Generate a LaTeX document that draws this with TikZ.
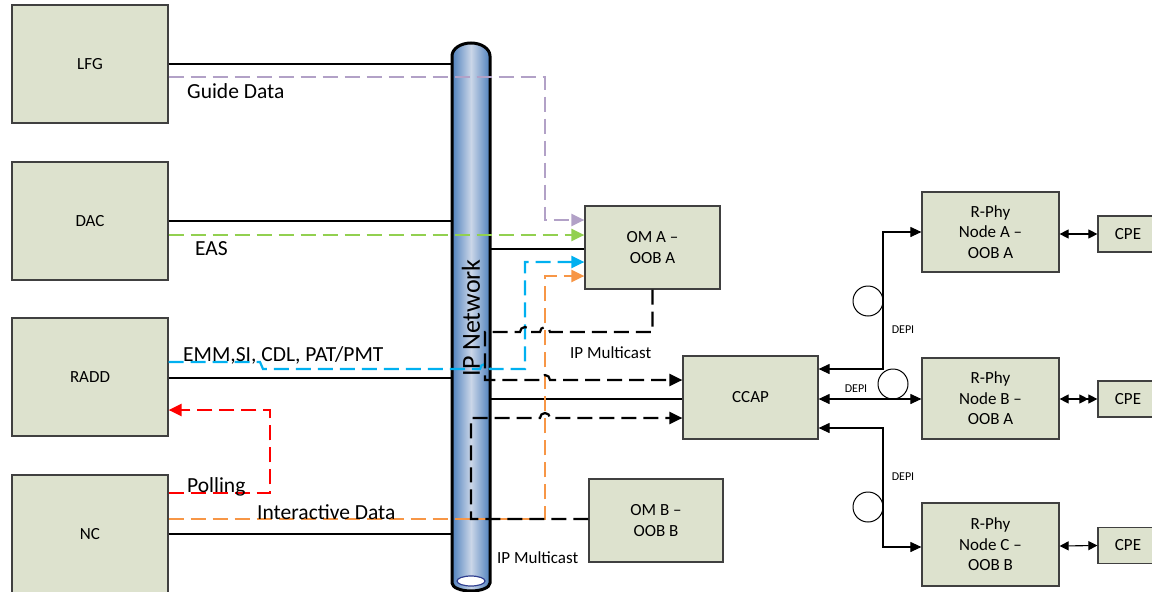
\documentclass[tikz,border=0pt]{standalone}
\usepackage{fontspec}
\setmainfont{Carlito}
\usetikzlibrary{arrows.meta,calc}
\definecolor{boxfill}{RGB}{221,226,206}
\definecolor{boxline}{RGB}{64,64,64}
\definecolor{cpurple}{RGB}{178,161,199}
\definecolor{cgreen}{RGB}{146,208,80}
\definecolor{cblue}{RGB}{0,176,240}
\definecolor{corange}{RGB}{247,150,70}
\definecolor{cred}{RGB}{255,0,0}
\definecolor{pipeblue}{RGB}{79,129,189}
\definecolor{pipelight}{RGB}{203,214,232}
\definecolor{ellblue}{RGB}{47,62,143}
\begin{document}
\begin{tikzpicture}[x=1pt,y=-1pt,
  box/.style={draw=boxline,fill=boxfill,line width=1.2pt,inner sep=0pt,align=center,font=\fontsize{17}{20.5}\selectfont},
  lbl/.style={inner sep=0pt,font=\fontsize{21.5}{24}\selectfont,anchor=base west},
  mlbl/.style={inner sep=0pt,font=\fontsize{17}{20}\selectfont,anchor=base west},
  depi/.style={inner sep=0pt,font=\fontsize{12}{14}\selectfont},
  link/.style={line width=1.8pt},
  thinlink/.style={line width=1.1pt},
  dsh/.style={line width=2.2pt,dash pattern=on 15pt off 7pt},
  ring/.style={circle,draw,line width=1pt,minimum size=30pt,inner sep=0pt},
  >={Triangle[length=11pt,width=10pt]}]
\useasboundingbox (0,0) rectangle (1152,592);

% boxes
\node[box,minimum width=156pt,minimum height=118pt] (lfg) at (90,64) {LFG};
\node[box,minimum width=156pt,minimum height=118pt] (dac) at (90,221) {DAC};
\node[box,minimum width=156pt,minimum height=118pt] (radd) at (90,377) {RADD};
\node[box,minimum width=156pt,minimum height=118pt] (nc) at (90,534) {NC};
\node[box,minimum width=135pt,minimum height=83pt] (omA) at (652.5,247.5) {OM A –\\OOB A};
\node[box,minimum width=135pt,minimum height=83pt] (ccap) at (750.5,397.5) {CCAP};
\node[box,minimum width=134pt,minimum height=83pt] (omB) at (656,520.5) {OM B –\\OOB B};
\node[box,minimum width=137pt,minimum height=80pt] (rA) at (990.5,232) {R-Phy\\Node A –\\OOB A};
\node[box,minimum width=137pt,minimum height=81pt] (rB) at (990.5,398.5) {R-Phy\\Node B –\\OOB A};
\node[box,minimum width=137pt,minimum height=83pt] (rC) at (990.5,544.5) {R-Phy\\Node C –\\OOB B};
\node[box,minimum width=60pt,minimum height=36pt] (cpeA) at (1128,234) {CPE};
\node[box,minimum width=60pt,minimum height=36pt] (cpeB) at (1128,399) {CPE};
\node[box,minimum width=60pt,minimum height=36pt] (cpeC) at (1128,545.5) {CPE};

% IP network pipe
\coordinate (pL) at (452,0);
\coordinate (pR) at (490,0);
\path[left color=pipeblue,right color=pipeblue,middle color=pipelight]
  (452,583) -- (452,56) arc[start angle=180,end angle=360,x radius=19,y radius=13]
  -- (490,583) arc[start angle=0,end angle=180,x radius=19,y radius=8] -- cycle;
\draw[line width=3pt]
  (452,583) -- (452,56) arc[start angle=180,end angle=360,x radius=19,y radius=13]
  -- (490,583) arc[start angle=0,end angle=180,x radius=19,y radius=8] -- cycle;
\draw[ellblue,fill=white,line width=1.2pt] (471,581) ellipse[x radius=14,y radius=5];

% solid links to pipe
\draw[link] (lfg.east) -- (lfg.east -| pL);
\draw[link] (dac.east) -- (dac.east -| pL);
\draw[link] (radd.east |- 0,378) -- (pL |- 0,378);
\draw[link] (nc.east) -- (nc.east -| pL);
\draw[link] (pR |- 0,249) -- (omA.west |- 0,249);
\draw[link] (pR |- 0,399) -- (ccap.west |- 0,399);

% coloured flows
\draw[dsh,corange,-{Triangle[length=13pt,width=12pt]}]
  (nc.east |- 0,519) -- (545,519) -- (545,276) -- (omA.west |- 0,276);
\draw[dsh,cpurple,-{Triangle[length=13pt,width=12pt]}]
  (lfg.east |- 0,77) -- (545,77) -- (545,220) -- (omA.west |- 0,220);
\draw[dsh,cgreen,-{Triangle[length=13pt,width=12pt]}]
  (dac.east |- 0,235) -- (omA.west |- 0,235);
\draw[dsh,cblue,-{Triangle[length=13pt,width=12pt]}]
  (radd.east |- 0,362) -- (260,362) -- (263,369) -- (480,369)
  arc[start angle=180,end angle=360,radius=5] -- (525,369) -- (525,262) -- (omA.west |- 0,262);
\draw[dsh,cred,-{Triangle[length=13pt,width=12pt]}]
  (nc.east |- 0,493) -- (270,493) -- (270,410) -- (radd.east |- 0,410);

% multicast flows
\draw[dsh,black,-{Triangle[length=13pt,width=12pt]}]
  (omA.south) -- (652.5,332) -- (550,332) arc[start angle=0,end angle=-180,radius=5]
  -- (530,332) arc[start angle=0,end angle=-180,radius=5] -- (485,332) -- (485,380)
  -- (540,380) arc[start angle=180,end angle=360,radius=5] -- (ccap.west |- 0,380);
\draw[dsh,black,-{Triangle[length=13pt,width=12pt]}]
  (omB.west |- 0,519) -- (471,519) -- (471,418)
  -- (540,418) arc[start angle=180,end angle=360,radius=5] -- (ccap.west |- 0,418);

% right side DEPI links
\draw[thinlink,<->] (ccap.east |- 0,369) -- (883,369) -- (883,232) -- (rA.west |- 0,232);
\draw[thinlink,<->] (ccap.east |- 0,399) -- (rB.west |- 0,399);
\draw[thinlink,<->] (ccap.east |- 0,428) -- (883,428) -- (883,547) -- (rC.west |- 0,547);
\node[ring] (c1) at (868,301) {};
\node[ring] (c2) at (893,384) {};
\node[ring] (c3) at (868,507) {};
\node[depi] (d1) at (903,330) {DEPI};
\node[depi] (d2) at (856,389) {DEPI};
\node[depi] (d3) at (903,477) {DEPI};

% CPE links
\draw[thinlink,{Triangle[length=9pt,width=9pt]}-{Triangle[length=9pt,width=9pt]}] (rA.east |- 0,234) -- (cpeA.west);
\draw[thinlink,{Triangle[length=9pt,width=9pt]}-{Triangle[length=9pt,width=9pt] Triangle[length=9pt,width=9pt]}] (rB.east |- 0,399) -- (cpeB.west);
\draw[thinlink,{Triangle[length=9pt,width=9pt]}-{Triangle[length=9pt,width=9pt]}] (rC.east |- 0,546) -- (cpeC.west);

% labels
\node[lbl] (tgd) at (187,98) {Guide Data};
\node[lbl] (teas) at (195,255) {EAS};
\node[lbl] (temm) at (183,361) {EMM,SI, CDL, PAT/PMT};
\node[lbl] (tpol) at (187,492) {Polling};
\node[lbl] (tint) at (257,519) {Interactive Data};
\node[mlbl] (tm1) at (570,358) {IP Multicast};
\node[mlbl] (tm2) at (497,563) {IP Multicast};
\node[rotate=90,inner sep=0pt,font=\fontsize{26}{30}\selectfont] (ipn) at (471,318) {IP Network};
\end{tikzpicture}
\end{document}
